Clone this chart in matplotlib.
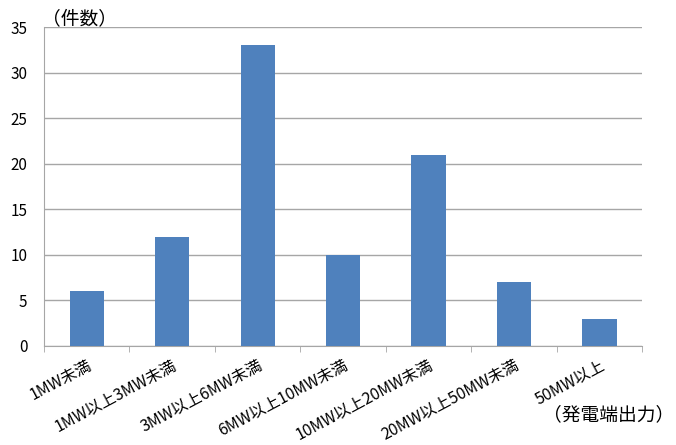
import numpy as np
import matplotlib.pyplot as plt

plt.rcParams['font.family'] = ['Noto Sans CJK JP', 'DejaVu Sans']

categories = ['1MW未満', '1MW以上3MW未満', '3MW以上6MW未満', '6MW以上10MW未満',
              '10MW以上20MW未満', '20MW以上50MW未満', '50MW以上']
counts = [6, 12, 33, 10, 21, 7, 3]

fig = plt.figure(figsize=(6.76, 4.45), dpi=100)
ax = fig.add_axes([0.065, 0.2225, 0.885, 0.7165])

x = np.arange(len(categories))
ax.bar(x, counts, width=0.4, color='#4f81bd', zorder=3)

ax.set_xlim(-0.5, len(categories) - 0.5)
ax.set_ylim(0, 35)
ax.set_yticks(range(0, 36, 5))
ax.yaxis.grid(True, color='#a6a6a6', linewidth=1, zorder=0)

for s in ['top', 'right']:
    ax.spines[s].set_visible(False)
ax.spines['left'].set_color('#a6a6a6')
ax.spines['bottom'].set_color('#a6a6a6')

# category boundaries get the tick marks, labels sit at centres
ax.set_xticks(np.arange(-0.5, len(categories)), minor=True)
ax.tick_params(axis='x', which='minor', length=4, color='#a6a6a6', direction='out')
ax.set_xticks(x)
ax.set_xticklabels(categories, rotation=28, ha='right', rotation_mode='anchor', fontsize=11.5)
ax.tick_params(axis='x', which='major', length=0, pad=8)
ax.tick_params(axis='y', length=0, labelsize=11, pad=12)

fig.text(0.062, 0.958, '（件数）', fontsize=13.5, ha='left', va='center')
fig.text(0.998, 0.067, '（発電端出力）', fontsize=13.5, ha='right', va='center')

fig.savefig('out.png', dpi=100)
